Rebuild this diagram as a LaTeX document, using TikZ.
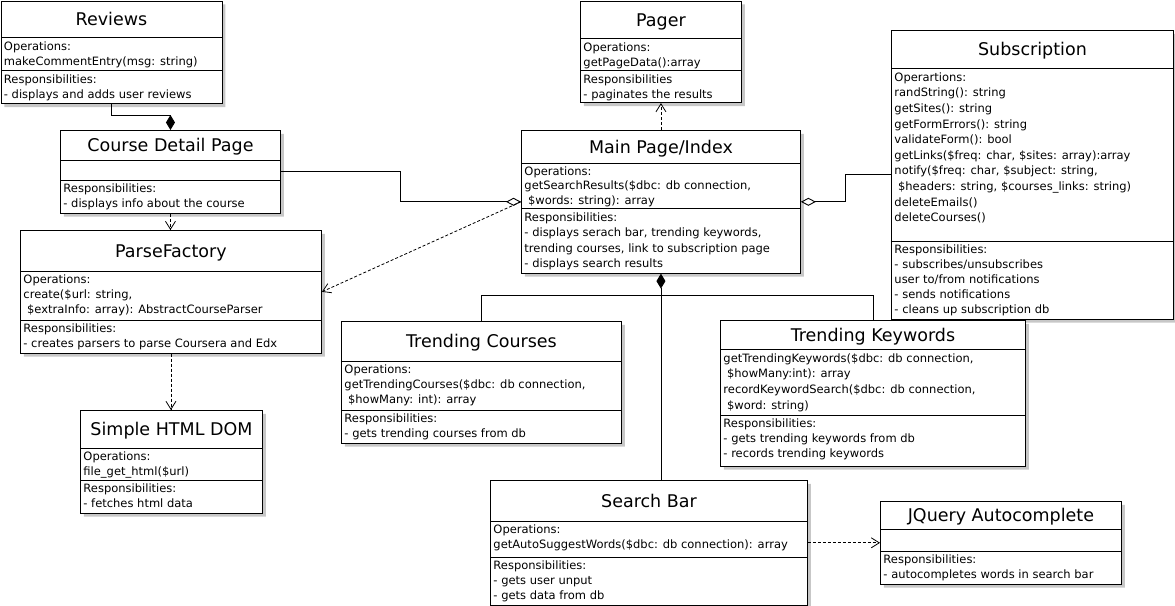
\documentclass[tikz,border=0pt]{standalone}
\usepackage{fontspec}
\setmainfont{DejaVu Sans}
\usetikzlibrary{arrows.meta,shapes.multipart,shadows}

\newcommand{\ttlpart}[3]{\parbox[c][#2pt][c]{#1pt}{\centering\fontsize{17.5}{21}\selectfont\rule{0pt}{12.5pt}\smash{#3}}}
\newcommand{\txtpart}[4][15]{\parbox[t][#3pt][t]{#2pt}{\fontsize{11.5}{#1}\selectfont\vspace*{1.5pt}\begin{tabular}[t]{@{}l@{}}#4\end{tabular}}}

\begin{document}
\begin{tikzpicture}[x=1pt,y=-1pt,
    cls/.style={rectangle split,rectangle split parts=3,draw,line width=.9pt,fill=white,
      inner xsep=3pt,inner ysep=0pt,anchor=north west,
      drop shadow={shadow xshift=3.5pt,shadow yshift=-3.5pt,fill=black!22,opacity=1}},
    uses/.style={line width=.8pt,dash pattern=on 3pt off 2pt,-{Straight Barb[length=8pt,width=10pt]}},
    aggr/.style={line width=.9pt,{Diamond[open,length=15pt,width=8pt]}-},
    comp/.style={line width=.9pt,{Diamond[length=15pt,width=9pt]}-}]
\useasboundingbox (0,0) rectangle (1175,605);
\node[cls] (rev) at (0.5,0.5) {\ttlpart{215}{36}{Reviews}%
  \nodepart{two}\txtpart{215}{32}{Operations:\\makeCommentEntry(msg: string)}%
  \nodepart{three}\txtpart{215}{32}{Responsibilities:\\- displays and adds user reviews}};
\node[cls] (cdp) at (60,130) {\ttlpart{214}{29}{Course Detail Page}%
  \nodepart{two}\txtpart{214}{19}{}%
  \nodepart{three}\txtpart{214}{32}{Responsibilities:\\- displays info about the course}};
\node[cls] (pf) at (20,230) {\ttlpart{295}{40}{ParseFactory}%
  \nodepart{two}\txtpart{295}{48}{Operations:\\create(\$url: string,\\\ \$extraInfo: array): AbstractCourseParser}%
  \nodepart{three}\txtpart{295}{32}{Responsibilities:\\- creates parsers to parse Coursera and Edx}};
\node[cls] (shd) at (80,410) {\ttlpart{176}{37}{Simple HTML DOM}%
  \nodepart{two}\txtpart{176}{31}{Operations:\\file\_get\_html(\$url)}%
  \nodepart{three}\txtpart{176}{32}{Responsibilities:\\- fetches html data}};
\node[cls] (pager) at (580,0.5) {\ttlpart{155}{37}{Pager}%
  \nodepart{two}\txtpart{155}{31}{Operations:\\getPageData():array}%
  \nodepart{three}\txtpart{155}{31}{Responsibilities\\- paginates the results}};
\node[cls] (main) at (521,130) {\ttlpart{273}{32}{Main Page/Index}%
  \nodepart{two}\txtpart[14.5]{273}{44}{Operations:\\getSearchResults(\$dbc: db connection,\\\ \$words: string): array}%
  \nodepart{three}\txtpart[15.5]{273}{64}{Responsibilities:\\- displays serach bar, trending keywords,\\trending courses, link to subscription page\\- displays search results}};
\node[cls] (sub) at (891,30) {\ttlpart{276}{37}{Subscription}%
  \nodepart{two}\txtpart[15.6]{276}{172}{Operartions:\\randString(): string\\getSites(): string\\getFormErrors(): string\\validateForm(): bool\\getLinks(\$freq: char, \$sites: array):array\\notify(\$freq: char, \$subject: string,\\\ \$headers: string, \$courses\_links: string)\\deleteEmails()\\deleteCourses()}%
  \nodepart{three}\txtpart{276}{77}{Responsibilities:\\- subscribes/unsubscribes\\user to/from notifications\\- sends notifications\\- cleans up subscription db}};
\node[cls] (tc) at (341,321) {\ttlpart{274}{39}{Trending Courses}%
  \nodepart{two}\txtpart{274}{48}{Operations:\\getTrendingCourses(\$dbc: db connection,\\\ \$howMany: int): array}%
  \nodepart{three}\txtpart{274}{32}{Responsibilities:\\- gets trending courses from db}};
\node[cls] (tk) at (720,320) {\ttlpart{299}{28}{Trending Keywords}%
  \nodepart{two}\txtpart[15.7]{299}{65}{getTrendingKeywords(\$dbc: db connection,\\\ \$howMany:int): array\\recordKeywordSearch(\$dbc: db connection,\\\ \$word: string)}%
  \nodepart{three}\txtpart{299}{50}{Responsibilities:\\- gets trending keywords from db\\- records trending keywords}};
\node[cls] (sb) at (490,480) {\ttlpart{311}{40}{Search Bar}%
  \nodepart{two}\txtpart{311}{35}{Operations:\\getAutoSuggestWords(\$dbc: db connection): array}%
  \nodepart{three}\txtpart{311}{47}{Responsibilities:\\- gets user unput\\- gets data from db}};
\node[cls] (jq) at (880,501) {\ttlpart{235}{27}{JQuery Autocomplete}%
  \nodepart{two}\txtpart{235}{21}{}%
  \nodepart{three}\txtpart{235}{32}{Responsibilities:\\- autocompletes words in search bar}};
\coordinate (fork) at (main.south |- 0,295);
\draw[comp] (cdp.north) -- ++(0,-15) -| (rev.south);
\draw[uses] (cdp.south) -- (cdp.south |- pf.north);
\draw[uses] (pf.south) -- (pf.south |- shd.north);
\draw[uses] (main.north) -- (pager.south);
\draw[uses] (main.west) -- (pf.east);
\draw[aggr] (main.west) -- ++(-121,0) |- (cdp.east);
\draw[aggr] (main.east) -- ++(45,0) |- (sub.west);
\draw[comp] (main.south) -- (main.south |- sb.north);
\draw[line width=.9pt] (fork) -| (tc.north);
\draw[line width=.9pt] (fork) -| (tk.north);
\draw[uses] (sb.east) -- (jq.west);
\end{tikzpicture}
\end{document}
